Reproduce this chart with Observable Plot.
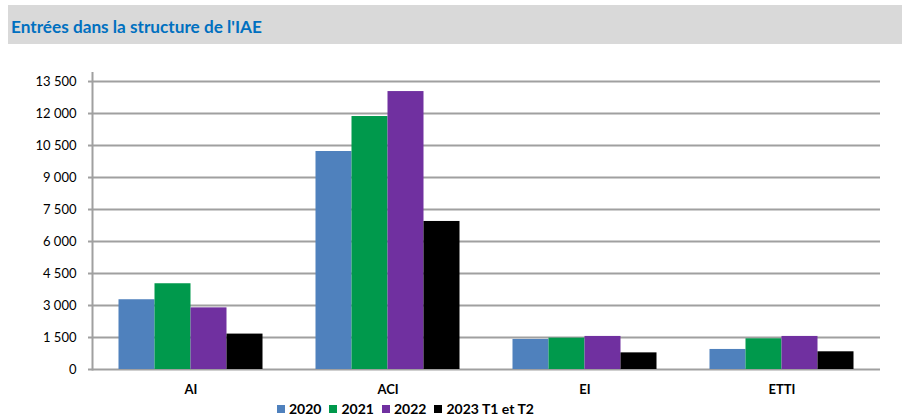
<!DOCTYPE html>
<html>
<head>
<meta charset="utf-8">
<script src="https://cdn.jsdelivr.net/npm/d3@7"></script>
<script src="https://cdn.jsdelivr.net/npm/@observablehq/plot@0.6"></script>
<style>
  body { margin: 0; background: #fff; font-family: Lato, "Open Sans", sans-serif; }
  #wrap { position: relative; width: 902px; height: 417px; overflow: hidden; }
  #title { position: absolute; left: 8px; top: 5px; width: 894px; height: 39px; background: #d9d9d9;
           display: flex; align-items: center; padding-left: 3px; padding-top: 3px; box-sizing: border-box;
           color: #0070c0; font-weight: bold; font-size: 17.2px; font-family: Lato, sans-serif; }
  #chart { position: absolute; left: 0; top: 0; }
  #legend { position: absolute; left: 277px; top: 401px; display: flex; gap: 8px; font-weight: bold;
            font-size: 14px; font-family: Lato, sans-serif; color: #000; line-height: 16px; }
  .sw { display: inline-flex; align-items: center; gap: 4px; }
  .sq { width: 8px; height: 8px; display: inline-block; }
</style>
</head>
<body>
<div id="wrap">
  <div id="title">Entrées dans la structure de l'IAE</div>
  <div id="chart"></div>
  <div id="legend"></div>
</div>
<script>
const categories = ["AI", "ACI", "EI", "ETTI"];
const series = ["2020", "2021", "2022", "2023 T1 et T2"];
const values2020 = [3270, 10220, 1410, 940];
const values2021 = [4020, 11860, 1470, 1440];
const values2022 = [2890, 13030, 1550, 1550];
const values2023 = [1660, 6940, 780, 830];
const yTicks = [0, 1500, 3000, 4500, 6000, 7500, 9000, 10500, 12000, 13500];
const colors = ["#4f81bd", "#00994c", "#7030a0", "#000000"];

const seriesValues = [values2020, values2021, values2022, values2023];
const data = [];
categories.forEach((c, i) => {
  series.forEach((s, j) => data.push({cat: c, series: s, value: seriesValues[j][i]}));
});

const fmt = d => d3.format(",")(d).replace(/,/g, " ");

const chart = Plot.plot({
  width: 902,
  height: 400,
  marginTop: 72.5,
  marginBottom: 31,
  marginLeft: 92,
  marginRight: 22,
  style: {fontFamily: "Lato, sans-serif", background: "transparent", color: "#000"},
  fx: {domain: categories, padding: 0, label: null},
  x: {domain: series, paddingInner: 0, paddingOuter: 0.736, round: false, axis: null},
  y: {domain: [0, 13900], label: null},
  color: {domain: series, range: colors},
  marks: [
    Plot.gridY(yTicks, {stroke: "#a0a0a0", strokeWidth: 2, strokeOpacity: 1}),
    Plot.frame({anchor: "left", facetAnchor: "left", stroke: "#a0a0a0", strokeWidth: 2}),
    Plot.axisY(yTicks, {tickSize: 4, tickPadding: 12, stroke: "#a0a0a0", strokeWidth: 2, fill: "#000",
                        tickFormat: fmt, fontSize: 13, label: null}),
    Plot.axisFx({anchor: "bottom", tickSize: 0, tickPadding: 15, fontSize: 13, fontWeight: "bold", label: null}),
    Plot.barY(data, {fx: "cat", x: "series", y: "value", fill: "series"})
  ]
});
document.getElementById("chart").appendChild(chart);

const legend = document.getElementById("legend");
series.forEach((s, i) => {
  const el = document.createElement("span");
  el.className = "sw";
  el.innerHTML = `<span class="sq" style="background:${colors[i]}"></span>${s}`;
  legend.appendChild(el);
});
</script>
</body>
</html>
